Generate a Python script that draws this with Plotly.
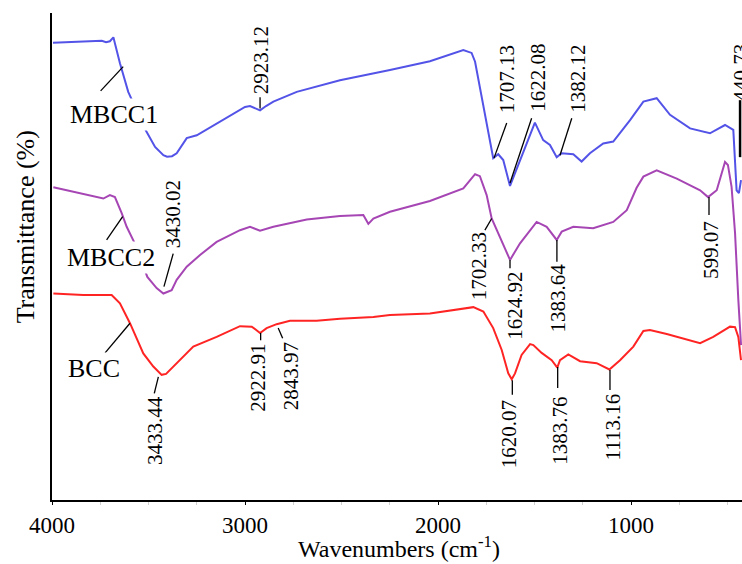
import plotly.graph_objects as go

# ---- data ----
mbcc1_wn = [3995, 3855, 3742, 3720, 3700, 3682, 3648, 3605, 3560, 3513, 3466, 3423, 3404, 3378, 3354, 3302,
            3250, 3147, 3000, 2974, 2922, 2891, 2853, 2732, 2508, 2249, 2042, 1869, 1826, 1808, 1762, 1714,
            1688, 1662, 1627, 1575, 1523, 1498, 1455, 1420, 1385, 1359, 1299, 1256, 1213, 1144, 1092, 1005,
            936, 867, 798, 694, 591, 513, 470, 453, 441, 430]
mbcc1_t = [93.9, 94.1, 94.3, 94.0, 94.2, 95.0, 89.7, 83.8, 79.7, 75.8, 72.5, 70.8, 70.5, 70.6, 71.2, 74.3,
           74.9, 77.3, 80.7, 80.9, 80.0, 80.9, 81.8, 83.8, 86.2, 88.3, 90.1, 92.4, 91.8, 90.0, 80.1, 70.2,
           71.0, 69.8, 64.5, 69.8, 75.3, 77.5, 73.9, 72.9, 70.4, 71.2, 71.0, 69.5, 71.2, 73.2, 73.6, 78.0,
           81.8, 82.5, 79.1, 76.3, 75.3, 77.0, 76.0, 63.6, 63.0, 65.7]

mbcc2_wn = [3993, 3838, 3734, 3700, 3674, 3639, 3613, 3575, 3544, 3506, 3458, 3423, 3380, 3354, 3302, 3233,
            3147, 3026, 2974, 2922, 2853, 2680, 2508, 2387, 2361, 2335, 2249, 2042, 1869, 1808, 1783, 1748,
            1722, 1679, 1627, 1575, 1489, 1437, 1385, 1359, 1299, 1196, 1092, 1022, 971, 936, 867, 763,
            642, 601, 556, 513, 498, 479, 461, 444, 430]
mbcc2_t = [64.2, 62.8, 61.9, 62.6, 62.2, 58.9, 56.1, 53.0, 49.7, 45.8, 43.5, 42.4, 43.1, 45.2, 47.9, 50.3,
           53.0, 55.4, 56.1, 55.3, 56.1, 57.6, 58.3, 58.5, 56.7, 57.8, 59.2, 61.4, 64.0, 66.9, 66.5, 62.6,
           57.8, 54.1, 49.3, 52.7, 57.1, 56.1, 53.4, 55.1, 56.1, 55.8, 57.1, 59.5, 64.1, 66.4, 67.7, 66.0,
           63.6, 62.2, 63.6, 69.4, 68.8, 64.3, 54.8, 41.1, 31.8]

bcc_wn = [3993, 3838, 3691, 3648, 3596, 3527, 3475, 3432, 3409, 3354, 3268, 3147, 3026, 2965, 2922, 2888,
          2836, 2767, 2629, 2508, 2335, 2249, 2042, 1817, 1765, 1714, 1670, 1636, 1618, 1601, 1567, 1523,
          1506, 1463, 1411, 1382, 1368, 1325, 1264, 1178, 1112, 1057, 988, 936, 902, 815, 729, 642,
          574, 487, 461, 444, 430]
bcc_t = [42.4, 42.1, 42.1, 40.4, 36.3, 30.1, 27.4, 25.7, 25.9, 28.1, 31.5, 33.5, 35.7, 35.6, 34.3, 35.3,
         36.1, 36.8, 36.8, 37.2, 37.6, 38.0, 38.3, 39.6, 38.7, 35.3, 30.8, 26.0, 24.8, 26.0, 29.8, 32.0,
         31.8, 30.2, 28.7, 27.2, 28.7, 29.9, 28.5, 28.1, 26.8, 28.7, 31.5, 34.7, 34.9, 34.1, 33.2, 32.2,
         33.5, 35.6, 35.5, 33.5, 28.7]

series_names = ["MBCC1", "MBCC2", "BCC"]
tick_vals = [4000, 3000, 2000, 1000]

peak_labels = ["2923.12", "1707.13", "1622.08", "1382.12", "440.73",
               "3430.02", "1702.33", "1624.92", "1383.64", "599.07",
               "3433.44", "2922.91", "2843.97", "1620.07", "1383.76", "1113.16"]

# ---- layout helpers (positions / styles) ----
FONT = "'Liberation Serif', 'Times New Roman', serif"
colors = ["#5353e8", "#a646b4", "#ff2424"]

# peak label centres (wn, T) and leader segments (x0, y0, x1, y1)
label_pos = [(2917, 90.3), (1643, 86.4), (1482, 86.7), (1275, 86.5), (433, 87.9),
             (3373, 58.7), (1788, 48.0), (1601, 39.9), (1381, 41.5), (586, 51.3),
             (3466, 14.2), (2933, 25.1), (2762, 25.4), (1632, 13.5), (1368, 14.2), (1093, 14.9)]
leaders = [(2922, 82.7, 2922, 80.4), (1644, 77.4, 1710, 70.2), (1515, 78.4, 1627, 65.1),
           (1307, 78.4, 1368, 70.8), (435, 82.1, 435, 70.4),
           (3372, 50.6, 3420, 43.8), (1757, 55.4, 1722, 57.8), (1627, 49.3, 1627, 47.6),
           (1384, 53.4, 1384, 48.9), (596, 62.2, 596, 58.5),
           (3449, 25.3, 3470, 21.9), (2919, 34.3, 2919, 32.8), (2828, 35.3, 2805, 33.2),
           (1615, 24.6, 1615, 21.6), (1380, 27.3, 1380, 23.0), (1109, 26.7, 1109, 22.6)]
name_pos = [(3679, 79.2), (3694, 49.8), (3782, 27.0)]
name_leaders = [(3748, 84.0, 3631, 89.0), (3717, 53.4, 3634, 58.2), (3725, 30.2, 3596, 36.3)]

fig = go.Figure()
for wn, t, nm, c in zip([mbcc1_wn, mbcc2_wn, bcc_wn], [mbcc1_t, mbcc2_t, bcc_t], series_names, colors):
    fig.add_trace(go.Scatter(x=wn, y=t, mode="lines", name=nm,
                             line=dict(color=c, width=2), showlegend=False))

shapes = []
for i, (x0, y0, x1, y1) in enumerate(leaders + name_leaders):
    w = 2.5 if i == 4 else 1.3
    shapes.append(dict(type="line", xref="x", yref="y", x0=x0, y0=y0, x1=x1, y1=y1,
                       line=dict(color="black", width=w), layer="above"))

annotations = []
for txt, (x, y) in zip(peak_labels, label_pos):
    annotations.append(dict(x=x, y=y, xref="x", yref="y", text=txt, showarrow=False,
                            textangle=-90, xanchor="center", yanchor="middle",
                            font=dict(family=FONT, size=21, color="black")))
for txt, (x, y) in zip(series_names, name_pos):
    annotations.append(dict(x=x, y=y, xref="x", yref="y", text=txt, showarrow=False,
                            xanchor="center", yanchor="middle", bgcolor="white",
                            font=dict(family=FONT, size=26, color="black")))
annotations.append(dict(x=-0.039, y=0.56, xref="paper", yref="paper", text="Transmittance (%)",
                        showarrow=False, textangle=-90, xanchor="center", yanchor="middle",
                        font=dict(family=FONT, size=26, color="black")))
annotations.append(dict(x=0.503, y=-63.0 / 487, xref="paper", yref="paper",
                        text="Wavenumbers (cm<sup>-1</sup>)", showarrow=False,
                        xanchor="center", yanchor="bottom", borderpad=0,
                        font=dict(family=FONT, size=24, color="black")))

fig.update_layout(
    width=742, height=564,
    margin=dict(l=52, r=0, t=13, b=64),
    paper_bgcolor="white", plot_bgcolor="white",
    font=dict(family=FONT, size=23, color="black"),
    shapes=shapes, annotations=annotations,
    xaxis=dict(range=[4000, 425], tickvals=tick_vals, ticktext=[str(v) for v in tick_vals],
               ticks="outside", ticklen=3, tickwidth=1.3, tickcolor="black",
               showline=True, linecolor="black", linewidth=1.8, showgrid=False, zeroline=False,
               minor=dict(tickvals=[3750, 3500, 3250, 2750, 2500, 2250, 1750, 1500, 1250, 750, 500],
                          ticks="outside", ticklen=3, tickcolor="#d0d0d0", tickwidth=1),
               tickfont=dict(family=FONT, size=23, color="black")),
    yaxis=dict(range=[0, 100], showticklabels=False, ticks="", showline=True, linecolor="black",
               linewidth=1.8, showgrid=False, zeroline=False),
)

fig.write_html("out.html")
